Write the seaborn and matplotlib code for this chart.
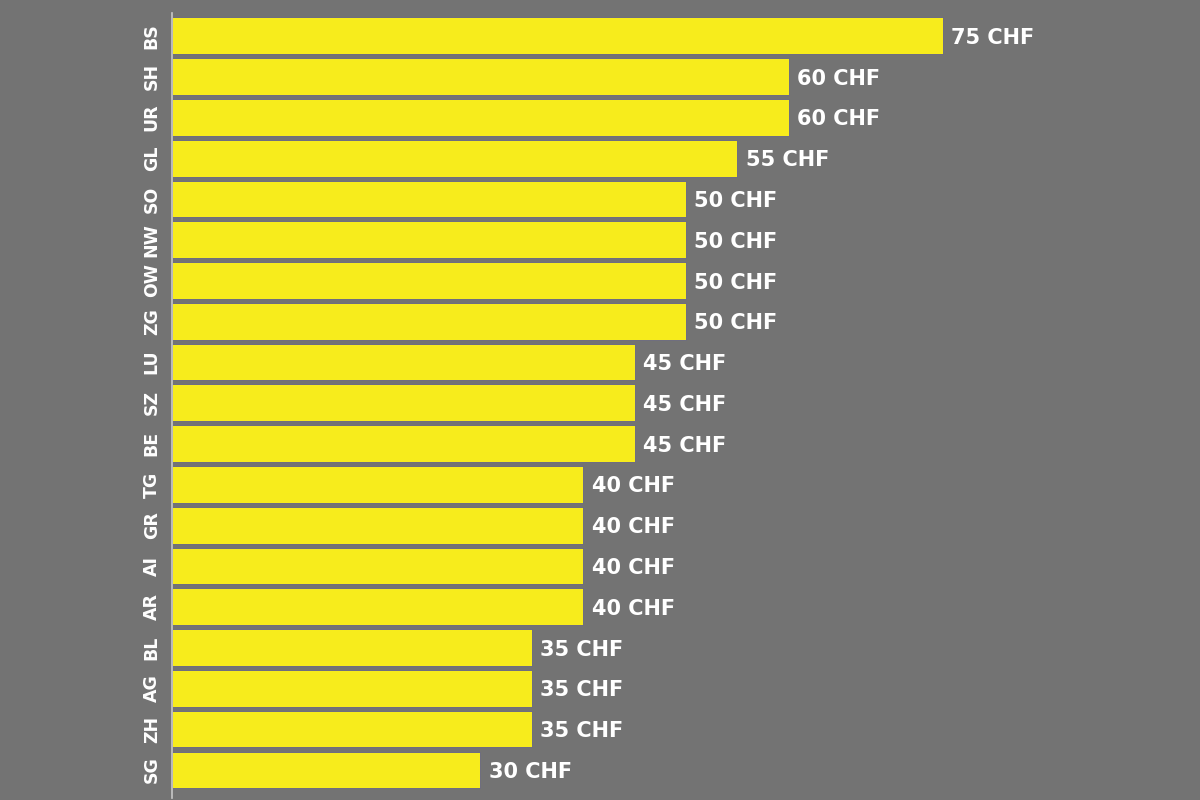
import pandas as pd
import seaborn as sns
import matplotlib.pyplot as plt

# cantons and fee values (CHF)
cantons = ["BS", "SH", "UR", "GL", "SO", "NW", "OW", "ZG", "LU", "SZ",
           "BE", "TG", "GR", "AI", "AR", "BL", "AG", "ZH", "SG"]
fees = [75, 60, 60, 55, 50, 50, 50, 50, 45, 45,
        45, 40, 40, 40, 40, 35, 35, 35, 30]

data = pd.DataFrame({"canton": cantons, "fee": fees})

bg = "#737373"
sns.set_style("white")
plt.rcParams["font.family"] = ["DejaVu Sans"]

fig = plt.figure(figsize=(12, 8), dpi=100, facecolor=bg)
ax = fig.add_axes([0.1433, 0.0025, 0.8567, 0.98125])
ax.set_facecolor(bg)

sns.barplot(data=data, x="fee", y="canton", orient="h", color="#f7ec1c",
            saturation=1, width=0.9, edgecolor="#62628a", linewidth=0.6, ax=ax)

# value labels to the right of each bar
for i, v in enumerate(fees):
    ax.annotate(f"{v} CHF", xy=(v, i), xytext=(6, 0), textcoords="offset points",
                va="center_baseline", ha="left", color="white",
                fontsize=15, fontweight="bold")

ax.set_xlim(0, 100)
ax.set_ylim(18.69, -0.56)
ax.set_xlabel("")
ax.set_ylabel("")
ax.set_xticks([])
for s in ["top", "right", "bottom"]:
    ax.spines[s].set_visible(False)
ax.spines["left"].set_color("#c8c8c8")
ax.spines["left"].set_linewidth(1.2)
ax.tick_params(axis="y", length=0, pad=8, labelsize=12.5, labelcolor="white")
for lab in ax.get_yticklabels():
    lab.set_rotation(90)
    lab.set_fontweight("bold")
    lab.set_va("center")

fig.savefig("out.png", dpi=100, facecolor=bg)
